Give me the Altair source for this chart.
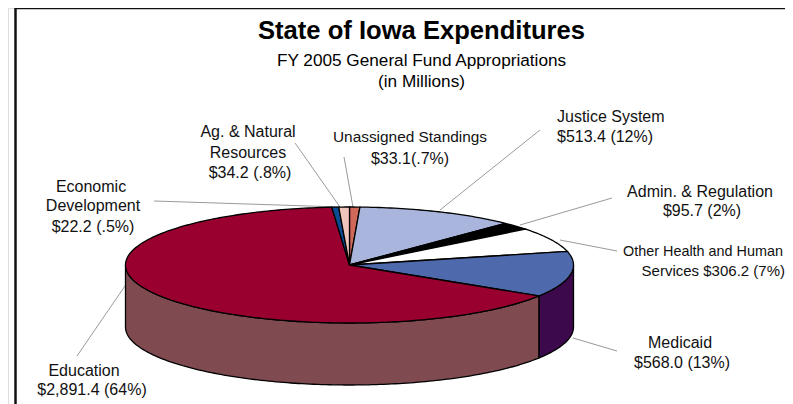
import math
import altair as alt

# ---- data ----
categories = ["Unassigned Standings", "Justice System", "Admin. & Regulation",
              "Other Health and Human Services", "Medicaid", "Education",
              "Economic Development", "Ag. & Natural Resources"]
values = [33.1, 513.4, 95.7, 306.2, 568.0, 2891.4, 22.2, 34.2]
top_colors = ["#D0695A", "#A9B5DC", "#000000", "#FFFFFF", "#4E69AC", "#99002F", "#0B4C92", "#F0C6BC"]
side_colors = {"Medicaid": "#3C0A4C", "Education": "#7F4B50"}

# ---- layout (page pixels) ----
PAGE = 8
CX, CY, RX, RY, DEPTH = 349.5, 265.0, 224.0, 58.0, 62.0
W, H = 777, 396


def pt(deg, dy=0.0):
    a = math.radians(deg)
    return [CX + RX * math.sin(a) - PAGE, CY - RY * math.cos(a) + dy - PAGE]


def arc(a0, a1, dy=0.0):
    n = max(2, int(abs(a1 - a0)) + 1)
    return [pt(a0 + (a1 - a0) * i / n, dy) for i in range(n + 1)]


total = sum(values)
features = []
start = 0.0
tops = []
for name, v, col in zip(categories, values, top_colors):
    end = start + 360.0 * v / total
    if name in side_colors:
        a0, a1 = max(start, 90.0), min(end, 270.0)
        ring = arc(a0, a1) + arc(a1, a0, DEPTH)
        ring.append(ring[0])
        features.append({"type": "Feature",
                         "geometry": {"type": "Polygon", "coordinates": [ring]},
                         "properties": {"fill": side_colors[name], "name": name}})
    ring = [[CX - PAGE, CY - PAGE]] + arc(start, end) + [[CX - PAGE, CY - PAGE]]
    tops.append({"type": "Feature",
                 "geometry": {"type": "Polygon", "coordinates": [ring]},
                 "properties": {"fill": col, "name": name}})
    start = end
features += tops

pie = alt.Chart(alt.Data(values=features)).mark_geoshape(
    stroke="#000000", strokeWidth=1.3
).encode(
    fill=alt.Fill("properties.fill:N", scale=None)
).project(type="identity", scale=1, translate=[0, 0])

# leader lines
leaders_x = [154, 295, 344, 540, 612, 617, 617, 77]
leaders_y = [201, 143, 157, 130, 198, 251, 351, 356]
leaders_x2 = [340, 340, 353, 440, 520, 560, 573, 127]
leaders_y2 = [207, 207, 207, 210, 225, 240, 338, 283]
leader_rows = [{"x": a - PAGE, "y": b - PAGE, "x2": c - PAGE, "y2": d - PAGE}
               for a, b, c, d in zip(leaders_x, leaders_y, leaders_x2, leaders_y2)]
leaders = alt.Chart(alt.Data(values=leader_rows)).mark_rule(color="#9a9a9a", strokeWidth=1).encode(
    x=alt.X("x:Q", scale=None), y=alt.Y("y:Q", scale=None),
    x2="x2:Q", y2="y2:Q")

# frame
frame_rows = [{"x": 15.5 - PAGE, "y": 7 - PAGE + 1, "x2": 793 - PAGE, "y2": 7 - PAGE + 1},
              {"x": 15.5 - PAGE, "y": 7 - PAGE + 1, "x2": 15.5 - PAGE, "y2": 404 - PAGE}]
frame = alt.Chart(alt.Data(values=frame_rows)).mark_rule(color="#111111", strokeWidth=2.5).encode(
    x=alt.X("x:Q", scale=None), y=alt.Y("y:Q", scale=None),
    x2="x2:Q", y2="y2:Q")

# text
label_text = ["Justice System", "$513.4 (12%)",
              "Admin. & Regulation", "$95.7 (2%)",
              "Other Health and Human", "Services  $306.2 (7%)",
              "Medicaid", "$568.0 (13%)",
              "Education", "$2,891.4 (64%)",
              "Economic", "Development", "$22.2 (.5%)",
              "Ag. & Natural", "Resources", "$34.2 (.8%)",
              "Unassigned Standings", "$33.1(.7%)"]
label_x = [557, 557, 700, 702, 623, 785, 648, 634, 84, 92, 91, 93, 93, 248, 248, 250, 410, 410]
label_y = [122, 142, 197, 216, 256, 276, 348, 368, 376, 395, 192, 211, 232, 137, 158, 178, 142, 164]
label_align = ["left", "left", "center", "center", "left", "right", "left", "left", "center", "center",
               "center", "center", "center", "center", "center", "center", "center", "center"]
label_size = [16, 16, 16, 16, 14.4, 15, 16, 16, 16, 16, 16, 16, 16, 16, 16, 16, 15.4, 16]

rows = [{"t": t, "x": x - PAGE, "y": y - PAGE, "a": a, "s": s}
        for t, x, y, a, s in zip(label_text, label_x, label_y, label_align, label_size)]


def text_layer(align, size):
    sel = [r for r in rows if r["a"] == align and r["s"] == size]
    return alt.Chart(alt.Data(values=sel)).mark_text(
        align=align, baseline="alphabetic", font="Liberation Sans", fontSize=size, color="#111111"
    ).encode(x=alt.X("x:Q", scale=None), y=alt.Y("y:Q", scale=None), text="t:N")


label_layers = [text_layer(a, s) for a, s in sorted({(r["a"], r["s"]) for r in rows})]

title_text = ["State of Iowa Expenditures", "FY 2005 General Fund Appropriations", "(in Millions)"]
title_y = [39, 66, 87]
title_size = [25.6, 17.2, 17.2]
title_weight = ["bold", "normal", "normal"]
title_layers = [
    alt.Chart(alt.Data(values=[{"t": t, "x": 421.5 - PAGE, "y": y - PAGE}])).mark_text(
        align="center", baseline="alphabetic", font="Liberation Sans", fontSize=s, fontWeight=w, color="#000000"
    ).encode(x=alt.X("x:Q", scale=None), y=alt.Y("y:Q", scale=None), text="t:N")
    for t, y, s, w in zip(title_text, title_y, title_size, title_weight)
]

chart = alt.layer(
    frame, leaders, pie, *label_layers, *title_layers
).properties(
    width=W, height=H, padding=0, autosize=alt.AutoSizeParams(type="none")
).configure_view(stroke=None).configure(background="#FFFFFF")

chart.save("out.html", embed_options={"renderer": "svg", "actions": False})
